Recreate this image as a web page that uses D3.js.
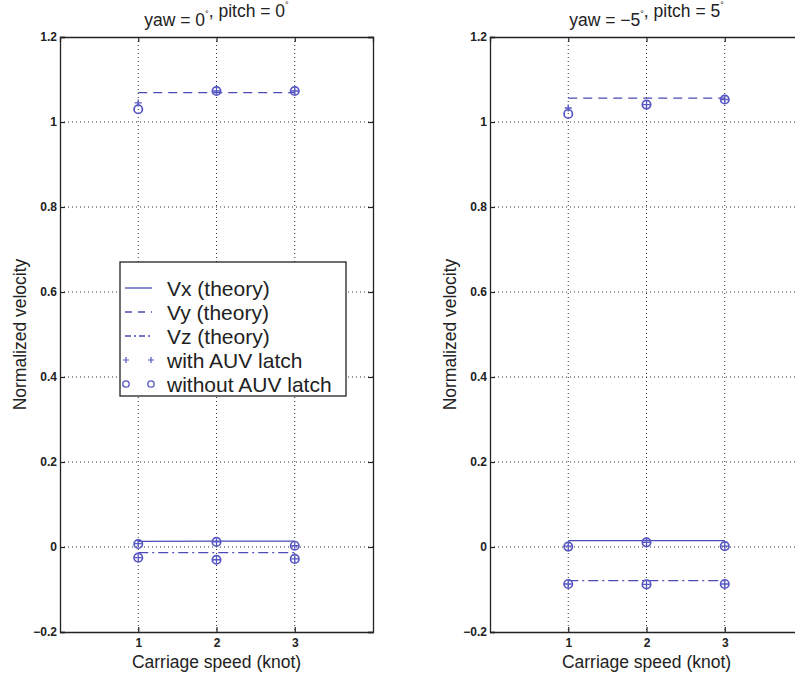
<!DOCTYPE html>
<html>
<head>
<meta charset="utf-8">
<script src="https://cdn.jsdelivr.net/npm/d3@7"></script>
<style>
  html, body { margin: 0; padding: 0; background: #fff; }
  svg { display: block; }
  text { font-family: "Liberation Sans", Arial, Helvetica, sans-serif; fill: #222; }
</style>
</head>
<body>
<svg id="chart" width="795" height="675"></svg>
<script>
// ---------- data ----------
const carriageSpeed = [1, 2, 3];
const xTicks = [1, 2, 3];
const yTicks = [-0.2, 0, 0.2, 0.4, 0.6, 0.8, 1, 1.2];
const yTickLabels = ["\u22120.2", "0", "0.2", "0.4", "0.6", "0.8", "1", "1.2"];

// left panel: yaw = 0, pitch = 0
const leftVxTheory = [0.013, 0.014, 0.014];
const leftVyTheory = [1.069, 1.069, 1.069];
const leftVzTheory = [-0.013, -0.013, -0.013];
const leftVxWith = [0.008, 0.012, 0.003];
const leftVyWith = [1.045, 1.073, 1.073];
const leftVzWith = [-0.025, -0.030, -0.028];
const leftVxWithout = [0.007, 0.012, 0.003];
const leftVyWithout = [1.030, 1.073, 1.073];
const leftVzWithout = [-0.025, -0.030, -0.028];

// right panel: yaw = -5, pitch = 5
const rightVxTheory = [0.015, 0.015, 0.015];
const rightVyTheory = [1.056, 1.056, 1.056];
const rightVzTheory = [-0.079, -0.079, -0.079];
const rightVxWith = [0.002, 0.011, 0.002];
const rightVyWith = [1.033, 1.041, 1.053];
const rightVzWith = [-0.087, -0.088, -0.087];
const rightVxWithout = [0.001, 0.011, 0.002];
const rightVyWithout = [1.019, 1.041, 1.053];
const rightVzWithout = [-0.087, -0.088, -0.087];

const legendLabels = ["Vx (theory)", "Vy (theory)", "Vz (theory)", "with AUV latch", "without AUV latch"];

// ---------- drawing ----------
const svg = d3.select("#chart");
const lineColor = "#4b4bb5";
const markColor = "#5656c4";

function panel(opts) {
  const x = d3.scaleLinear().domain([0, 4]).range([opts.left, opts.left + 313]);
  const y = d3.scaleLinear().domain([-0.2, 1.2]).range([632, 37]);
  const g = svg.append("g");

  // grid (dotted)
  g.append("g").selectAll("line.gx").data(xTicks).join("line")
    .attr("x1", d => x(d)).attr("x2", d => x(d))
    .attr("y1", y(1.2)).attr("y2", y(-0.2))
    .attr("stroke", "#333").attr("stroke-width", 1).attr("stroke-dasharray", "1,3");
  g.append("g").selectAll("line.gy").data(yTicks.filter(v => v > -0.2 && v < 1.2)).join("line")
    .attr("x1", x(0)).attr("x2", x(4))
    .attr("y1", d => y(d)).attr("y2", d => y(d))
    .attr("stroke", "#333").attr("stroke-width", 1).attr("stroke-dasharray", "1,3");

  // axes
  const xAxisB = d3.axisBottom(x).tickValues(xTicks).tickSize(0).tickPadding(6).tickFormat(d3.format("d"));
  const xAxisT = d3.axisTop(x).tickValues(xTicks).tickSize(-5).tickFormat("");
  const yAxisL = d3.axisLeft(y).tickValues(yTicks).tickSize(-5).tickPadding(3)
    .tickFormat((d, i) => yTickLabels[i]);
  const yAxisR = d3.axisRight(y).tickValues(yTicks).tickSize(-5).tickFormat("");

  const styleAxis = sel => {
    sel.select(".domain").attr("stroke", "#222").attr("stroke-width", 1.3);
    sel.selectAll(".tick line").attr("stroke", "#222").attr("stroke-width", 1.2);
    sel.selectAll("text").attr("font-size", 12).attr("font-weight", "bold").attr("fill", "#333")
      .style("font-family", "'Liberation Sans', Arial, sans-serif");
  };
  g.append("g").attr("transform", `translate(0,${y(-0.2)})`).call(xAxisB).call(styleAxis)
    .call(s => s.selectAll(".tick").append("line").attr("y2", -5).attr("stroke", "#222").attr("stroke-width", 1.2));
  g.append("g").attr("transform", `translate(0,${y(1.2)})`).call(xAxisT).call(styleAxis);
  g.append("g").attr("transform", `translate(${x(0)},0)`).call(yAxisL).call(styleAxis);
  g.append("g").attr("transform", `translate(${x(4)},0)`).call(yAxisR).call(styleAxis);

  // theory lines
  const line = d3.line().x((d, i) => x(carriageSpeed[i])).y(d => y(d));
  g.append("path").datum(opts.vxT).attr("d", line).attr("fill", "none")
    .attr("stroke", lineColor).attr("stroke-width", 1.3);
  g.append("path").datum(opts.vyT).attr("d", line).attr("fill", "none")
    .attr("stroke", lineColor).attr("stroke-width", 1.3).attr("stroke-dasharray", "9,6");
  g.append("path").datum(opts.vzT).attr("d", line).attr("fill", "none")
    .attr("stroke", lineColor).attr("stroke-width", 1.3).attr("stroke-dasharray", "10,4,2,4");

  // markers
  const withPts = [].concat(
    opts.vxW.map((v, i) => [carriageSpeed[i], v]),
    opts.vyW.map((v, i) => [carriageSpeed[i], v]),
    opts.vzW.map((v, i) => [carriageSpeed[i], v]));
  const withoutPts = [].concat(
    opts.vxO.map((v, i) => [carriageSpeed[i], v]),
    opts.vyO.map((v, i) => [carriageSpeed[i], v]),
    opts.vzO.map((v, i) => [carriageSpeed[i], v]));

  g.append("g").selectAll("circle").data(withoutPts).join("circle")
    .attr("cx", d => x(d[0])).attr("cy", d => y(d[1])).attr("r", 4.2)
    .attr("fill", "none").attr("stroke", markColor).attr("stroke-width", 1.7);
  g.append("g").selectAll("path").data(withPts).join("path")
    .attr("d", d => `M${x(d[0]) - 3.5},${y(d[1])}h7M${x(d[0])},${y(d[1]) - 3.5}v7`)
    .attr("stroke", markColor).attr("stroke-width", 1.3);

  // title
  const t = g.append("text").attr("x", x(2)).attr("y", 26).attr("text-anchor", "middle")
    .attr("font-size", 17.5);
  opts.title.forEach(part => {
    if (part === "°") {
      t.append("tspan").attr("dy", -9).attr("font-size", 9).text("°");
      t.append("tspan").attr("dy", 9).text("");
    } else {
      t.append("tspan").text(part);
    }
  });

  // axis labels
  g.append("text").attr("x", x(2)).attr("y", 668).attr("text-anchor", "middle")
    .attr("font-size", 17.5).text("Carriage speed (knot)");
  g.append("text").attr("transform", `translate(${opts.left - 34},${y(0.5)}) rotate(-90)`)
    .attr("text-anchor", "middle").attr("font-size", 17.5).text("Normalized velocity");

  return { x, y, g };
}

panel({
  left: 60, title: ["yaw = 0", "°", ", pitch = 0", "°"],
  vxT: leftVxTheory, vyT: leftVyTheory, vzT: leftVzTheory,
  vxW: leftVxWith, vyW: leftVyWith, vzW: leftVzWith,
  vxO: leftVxWithout, vyO: leftVyWithout, vzO: leftVzWithout
});
panel({
  left: 490, title: ["yaw = \u22125", "°", ", pitch = 5", "°"],
  vxT: rightVxTheory, vyT: rightVyTheory, vzT: rightVzTheory,
  vxW: rightVxWith, vyW: rightVyWith, vzW: rightVzWith,
  vxO: rightVxWithout, vyO: rightVyWithout, vzO: rightVzWithout
});

// legend (left panel)
const lg = svg.append("g").attr("transform", "translate(120,262)");
lg.append("rect").attr("width", 226).attr("height", 134)
  .attr("fill", "#fff").attr("stroke", "#222").attr("stroke-width", 1.3);
const rowY = i => 26 + i * 24;
legendLabels.forEach((lab, i) => {
  const yy = rowY(i);
  if (i < 3) {
    const dash = [null, "7,6", "6,3,2,3"][i];
    const ln = lg.append("line").attr("x1", 5).attr("x2", 32).attr("y1", yy).attr("y2", yy)
      .attr("stroke", lineColor).attr("stroke-width", 1.3);
    if (dash) ln.attr("stroke-dasharray", dash);
  } else if (i === 3) {
    [6, 31].forEach(px => lg.append("path")
      .attr("d", `M${px - 3},${yy}h6M${px},${yy - 3}v6`)
      .attr("stroke", markColor).attr("stroke-width", 1.2));
  } else {
    [6, 31].forEach(px => lg.append("circle").attr("cx", px).attr("cy", yy).attr("r", 3.2)
      .attr("fill", "none").attr("stroke", markColor).attr("stroke-width", 1.3));
  }
  lg.append("text").attr("x", 47).attr("y", yy + 7.5).attr("font-size", 21).text(lab);
});
</script>
</body>
</html>
